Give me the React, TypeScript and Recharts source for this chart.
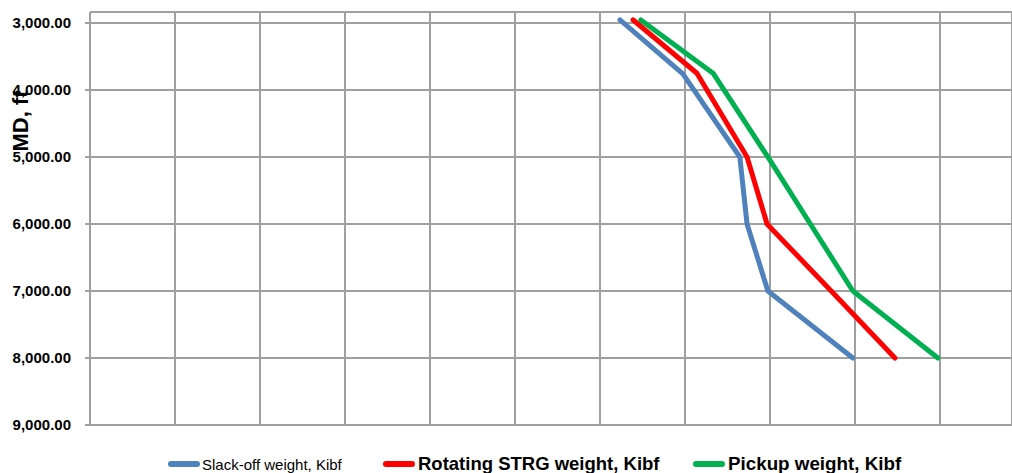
import { ScatterChart, Scatter, XAxis, YAxis, CartesianGrid } from 'recharts';

// weight (Kibf) vs measured depth (ft)
const slackWeight = [124.7, 139.5, 152.9, 154.6, 159.5, 179.5];
const slackDepth = [2955, 3760, 5000, 6000, 7000, 8000];

const rotatingWeight = [127.8, 142.8, 154.6, 159.3, 174.4, 189.4];
const rotatingDepth = [2955, 3750, 5000, 6000, 7000, 8000];

const pickupWeight = [129.6, 146.6, 159.5, 169.5, 179.5, 199.5];
const pickupDepth = [2955, 3750, 5000, 6000, 7000, 8000];

const depthTicks = [3000, 4000, 5000, 6000, 7000, 8000, 9000];
const weightTicks = [0, 20, 40, 60, 80, 100, 120, 140, 160, 180, 200];

const toPoints = (w: number[], d: number[]) => w.map((x, i) => ({ x, y: d[i] }));

const series = [
  { name: 'Slack-off weight, Kibf', color: '#4f81bd', data: toPoints(slackWeight, slackDepth), fontSize: 15, weight: 400, left: 168, gap: 2 },
  { name: 'Rotating STRG weight, Kibf', color: '#ff0000', data: toPoints(rotatingWeight, rotatingDepth), fontSize: 18.5, weight: 700, left: 383, gap: 3 },
  { name: 'Pickup weight, Kibf', color: '#00b050', data: toPoints(pickupWeight, pickupDepth), fontSize: 18.8, weight: 700, left: 693, gap: 3 },
];

const GRID = '#a0a0a0';
const FONT = '"Liberation Sans", Arial, sans-serif';

const fmt = (v: number) =>
  v.toLocaleString('en-US', { minimumFractionDigits: 2, maximumFractionDigits: 2 });

const ChartLegend = () => (
  <div style={{ position: 'absolute', left: 0, top: 452, width: 1012, height: 24 }}>
    {series.map((s) => (
      <div key={s.name} style={{ position: 'absolute', left: s.left, top: 0, display: 'flex', alignItems: 'center', height: 24 }}>
        <span style={{ display: 'inline-block', width: 32, height: 6, borderRadius: 3, background: s.color, marginRight: s.gap }} />
        <span style={{ fontFamily: FONT, fontSize: s.fontSize, fontWeight: s.weight, color: '#000', whiteSpace: 'nowrap' }}>{s.name}</span>
      </div>
    ))}
  </div>
);

export default function App() {
  return (
    <div style={{ position: 'absolute', left: 0, top: 0, width: 1012, height: 473, background: '#fff' }}>
      <ScatterChart width={1012} height={473} margin={{ top: 12, right: 0, bottom: 47, left: 0 }}>
        <CartesianGrid stroke={GRID} strokeWidth={2} />
        <XAxis type="number" dataKey="x" domain={[0, 216.94]} ticks={weightTicks} height={1}
          tick={() => <g />} tickLine={false} axisLine={false} allowDataOverflow />
        <YAxis type="number" dataKey="y" reversed domain={[2836, 9000]} ticks={depthTicks} width={90}
          allowDataOverflow tickFormatter={fmt} tickSize={5} tickMargin={14}
          stroke={GRID} axisLine={{ stroke: GRID, strokeWidth: 2 }} tickLine={{ stroke: GRID, strokeWidth: 2 }}
          tick={{ fill: '#000', fontSize: 15, fontWeight: 700, fontFamily: FONT }}
          label={{ value: 'MD, ft', angle: -90, position: 'insideLeft', offset: 0, dx: 20, dy: -67, fill: '#000', fontSize: 22, fontWeight: 700, fontFamily: FONT }} />
        {series.map((s) => (
          <Scatter key={s.name} name={s.name} data={s.data} fill={s.color} isAnimationActive={false}
            line={{ stroke: s.color, strokeWidth: 5, strokeLinecap: 'round', strokeLinejoin: 'round' }}
            shape={() => null} />
        ))}
      </ScatterChart>
      <ChartLegend />
    </div>
  );
}
